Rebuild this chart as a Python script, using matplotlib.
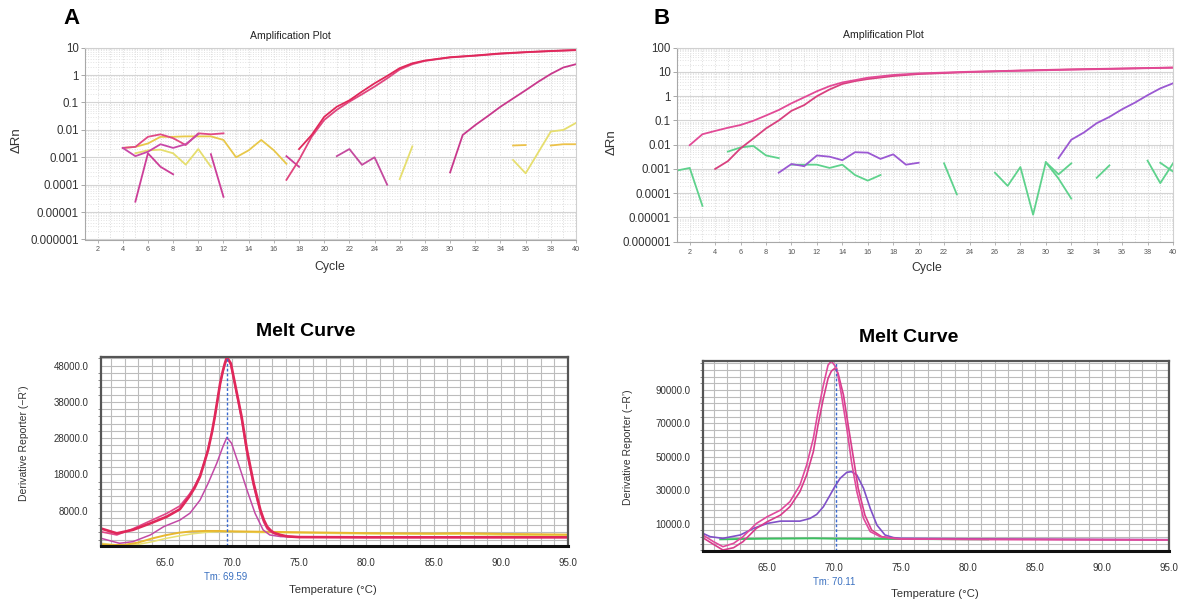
import numpy as np
import matplotlib
matplotlib.use("Agg")
import matplotlib.pyplot as plt
from matplotlib.ticker import FixedLocator, NullFormatter

plt.rcParams['font.family'] = ['Liberation Sans', 'DejaVu Sans']

W, H = 1182, 600

# ---------------- Amplification plot A ----------------
amp_ticks_a = [10, 1, 0.1, 0.01, 0.001, 0.0001, 0.00001, 0.000001]
amp_labels_a = ["10", "1", "0.1", "0.01", "0.001", "0.0001", "0.00001", "0.000001"]
cycle_ticks = list(range(2, 41, 2))

a_red1_x = [18, 19, 20, 21, 22, 23, 24, 25, 26, 27, 28, 30, 32, 34, 36, 38, 40]
a_red1_y = [0.002, 0.0065, 0.03, 0.07, 0.12, 0.25, 0.5, 0.93, 1.8, 2.7, 3.4, 4.5, 5.2, 6.2, 6.9, 7.6, 8.3]
a_red2_x = [17, 18, 19, 20, 21, 22, 23, 24, 25, 26, 27, 28, 30, 32, 34, 36, 38, 40]
a_red2_y = [0.00015, 0.0008, 0.0056, 0.023, 0.054, 0.107, 0.2, 0.38, 0.76, 1.6, 2.5, 3.3, 4.4, 5.1, 6.0, 6.8, 7.5, 8.1]
a_late_x = [30, 31, 32, 33, 34, 35, 36, 37, 38, 39, 40]
a_late_y = [0.00028, 0.0065, 0.015, 0.032, 0.07, 0.14, 0.28, 0.57, 1.1, 1.9, 2.5]

a_pink1_x = [4, 5, 6, 7, 8, 9, 10, 11, 12]
a_pink1_y = [0.0022, 0.0024, 0.0056, 0.0069, 0.005, 0.0028, 0.0075, 0.0069, 0.0075]
a_mag1_x = [4, 5, 6, 7, 8, 9, 10]
a_mag1_y = [0.0022, 0.0011, 0.0016, 0.003, 0.0022, 0.003, 0.007]
a_mag2_x = [5, 6, 7, 8]
a_mag2_y = [0.000024, 0.0014, 0.00045, 0.00024]
a_mag3_x = [11, 12]
a_mag3_y = [0.0013, 0.000036]
a_mag4_x = [17, 18]
a_mag4_y = [0.0011, 0.00045]
a_mag5_x = [21, 22, 23, 24, 25]
a_mag5_y = [0.0011, 0.002, 0.00053, 0.001, 0.0001]

a_yel1_x = [4, 5, 6, 7, 8, 9, 10, 11, 12, 13, 14, 15, 16, 17]
a_yel1_y = [0.0022, 0.0024, 0.0032, 0.0056, 0.0056, 0.0058, 0.0058, 0.0058, 0.0043, 0.001, 0.0018, 0.0043, 0.0018, 0.00058]
a_yel2_x = [5, 6, 7, 8, 9, 10, 11]
a_yel2_y = [0.0014, 0.0018, 0.0019, 0.0014, 0.00054, 0.002, 0.00045]
a_yel3_x = [26, 27]
a_yel3_y = [0.00016, 0.0025]
a_yel4_x = [35, 36, 38, 39, 40]
a_yel4_y = [0.0008, 0.00026, 0.0087, 0.01, 0.018]
a_gold1_x = [35, 36]
a_gold1_y = [0.0027, 0.0028]
a_gold2_x = [38, 39, 40]
a_gold2_y = [0.0027, 0.003, 0.003]

# ---------------- Amplification plot B ----------------
amp_ticks_b = [100, 10, 1, 0.1, 0.01, 0.001, 0.0001, 0.00001, 0.000001]
amp_labels_b = ["100", "10", "1", "0.1", "0.01", "0.001", "0.0001", "0.00001", "0.000001"]

b_pink1_x = [2, 3, 4, 5, 6, 7, 8, 9, 10, 11, 12, 13, 14, 15, 16, 18, 20, 24, 28, 32, 36, 40]
b_pink1_y = [0.0096, 0.027, 0.037, 0.05, 0.065, 0.097, 0.16, 0.27, 0.51, 0.9, 1.6, 2.6, 3.7, 4.6, 5.8, 7.5, 8.7, 10.2, 11.2, 12.4, 13.6, 15]
b_pink2_x = [4, 5, 6, 7, 8, 9, 10, 11, 12, 13, 14, 15, 16, 18, 20, 24, 28, 32, 36, 40]
b_pink2_y = [0.001, 0.0021, 0.0071, 0.018, 0.047, 0.1, 0.25, 0.43, 1.0, 1.9, 3.2, 4.2, 5.1, 6.8, 8.2, 9.9, 11.5, 12.8, 13.9, 15.2]
b_purp1_x = [31, 32, 33, 34, 35, 36, 37, 38, 39, 40]
b_purp1_y = [0.0028, 0.016, 0.032, 0.077, 0.14, 0.29, 0.54, 1.1, 2.1, 3.4]
b_purp2_x = [9, 10, 11, 12, 13, 14, 15, 16, 17, 18, 19, 20]
b_purp2_y = [0.0007, 0.0016, 0.0013, 0.0036, 0.0032, 0.0023, 0.0049, 0.0047, 0.0026, 0.004, 0.0015, 0.0018]

b_grn1_x = [1, 2, 3]
b_grn1_y = [0.00086, 0.0011, 0.00003]
b_grn2_x = [5, 6, 7, 8, 9]
b_grn2_y = [0.0052, 0.0077, 0.0089, 0.0036, 0.0028]
b_grn3_x = [10, 11, 12, 13, 14, 15, 16, 17]
b_grn3_y = [0.0015, 0.0015, 0.0015, 0.0011, 0.0015, 0.00056, 0.00033, 0.00056]
b_grn4_x = [22, 23]
b_grn4_y = [0.0017, 0.00009]
b_grn5_x = [26, 27, 28, 29, 30, 31, 32]
b_grn5_y = [0.0007, 0.0002, 0.0012, 0.000013, 0.0019, 0.0006, 0.0017]
b_grn6_x = [30, 31, 32]
b_grn6_y = [0.0019, 0.0004, 0.00006]
b_grn7_x = [34, 35]
b_grn7_y = [0.00043, 0.0014]
b_grn8_x = [38, 39, 40]
b_grn8_y = [0.0022, 0.00026, 0.0017]
b_grn9_x = [39, 40]
b_grn9_y = [0.0018, 0.00078]

# ---------------- Melt curve A ----------------
melt_a_t = [60.2, 61.4, 62.6, 63.9, 65.1, 66.1, 66.8, 67.2, 67.6, 67.9, 68.2, 68.5, 68.7, 68.9, 69.1, 69.3,
            69.45, 69.6, 69.75, 69.9, 70.2, 70.45, 70.7, 70.9, 71.1, 71.35, 71.6, 71.85, 72.1, 72.35, 72.6,
            72.85, 73.1, 73.6, 74.1, 75, 80, 85, 90, 95]
melt_a_red1 = [3100, 1750, 2700, 4500, 6300, 8400, 11900, 14300, 17400, 21000, 24700, 29800, 33900, 38500, 43100, 46500,
               48600, 50300, 49500, 48600, 43100, 38500, 33900, 29300, 24700, 20100, 15500, 11800, 8200, 5500, 3600,
               2600, 1900, 1300, 900, 700, 650, 650, 650, 650]
melt_a_red2 = [2200, 1300, 3000, 5200, 7200, 9300, 12500, 14800, 17800, 21200, 25000, 29800, 33900, 38300, 43000, 46300,
               48300, 49800, 49300, 48200, 42800, 38000, 33200, 28500, 23800, 19300, 14800, 11000, 7500, 4800, 3000,
               2200, 1700, 1200, 900, 700, 650, 650, 650, 650]
melt_a_t3 = [60.2, 61.6, 62.6, 63.9, 64.9, 66.1, 66.85, 67.6, 68.2, 68.85, 69.3, 69.6, 69.95, 70.45, 71.1, 71.7,
             72.3, 72.8, 73.6, 75, 80, 85, 90, 95]
melt_a_mag = [400, -1000, -550, 1300, 3600, 5400, 7300, 10900, 15500, 21100, 25600, 28200, 26600, 21100, 13700, 7300,
              2700, 1300, 850, 700, 650, 650, 650, 650]
melt_a_t2 = [60.2, 61, 62, 63, 64, 65, 66, 67, 68, 69, 70, 72, 74, 76, 78, 80, 85, 87, 90, 95]
melt_a_yel = [-1000, -1300, -1600, -1300, -600, 300, 1000, 1600, 2000, 2200, 2200, 2000, 1900, 1800, 1700, 1600, 1500, 1500, 1300, 1100]
melt_a_gold = [-1300, -1500, -1400, -800, 300, 1200, 1900, 2300, 2400, 2400, 2300, 2200, 2100, 2000, 1900, 1800, 1700, 1800, 1600, 1400]
melt_a_yticks = [8000, 18000, 28000, 38000, 48000]
tm_a = 69.59

# ---------------- Melt curve B ----------------
melt_b_t1 = [60.2, 61.0, 61.7, 62.5, 63.2, 64.2, 65.0, 66.0, 66.7, 67.45, 67.95, 68.45, 68.8, 69.2, 69.55, 69.8,
             70.2, 70.55, 70.95, 71.3, 71.7, 72.2, 72.7, 73.45, 74.45, 75, 80, 85, 90, 95]
melt_b_pink1 = [3200, -800, -3800, -1800, 2200, 10100, 14100, 18100, 23100, 33100, 45000, 61000, 77000, 92900, 104900, 107300,
                102900, 87000, 67000, 47000, 29100, 13100, 5200, 2200, 1200, 800, 600, 500, 400, 300]
melt_b_t2 = [60.2, 61.0, 61.7, 62.5, 63.2, 64.2, 65.0, 66.0, 66.7, 67.45, 67.95, 68.45, 68.8, 69.2, 69.55, 69.8,
             70.05, 70.3, 70.7, 71.05, 71.45, 71.8, 72.3, 72.8, 73.55, 74.45, 75, 80, 85, 90, 95]
melt_b_pink2 = [1600, -2400, -5800, -4400, -800, 7200, 11100, 15100, 20100, 29100, 39100, 53000, 69000, 85000, 96900, 101300,
                102900, 99900, 87000, 69000, 49000, 31100, 15100, 6200, 2200, 1200, 800, 600, 500, 400, 300]
melt_b_t3 = [60.2, 60.75, 61.7, 63.0, 64.0, 65.0, 66.0, 67.45, 68.2, 68.7, 69.2, 69.7, 70.05, 70.45, 70.95, 71.3,
             71.7, 72.2, 72.7, 73.2, 73.8, 74.45, 75, 80, 85, 90, 95]
melt_b_purp = [4200, 2200, 1200, 3200, 7200, 10100, 11500, 11500, 13100, 15500, 20100, 27100, 32100, 37100, 40700, 41100,
               39100, 31100, 19100, 9100, 3200, 1600, 1200, 900, 700, 500, 400]
melt_b_t4 = [61.5, 63, 65, 67, 68.5, 70, 72, 75, 78, 81.5]
melt_b_grn = [600, 800, 1000, 1100, 1200, 1000, 900, 800, 700, 600]
melt_b_yticks = [10000, 30000, 50000, 70000, 90000]
tm_b = 70.11

melt_xticks = [65, 70, 75, 80, 85, 90, 95]


def px_axes(fig, left, top, right, bottom):
    return fig.add_axes([left / W, 1 - bottom / H, (right - left) / W, (bottom - top) / H])


def ftext(fig, x, y, s, **kw):
    fig.text(x / W, 1 - y / H, s, ha=kw.pop("ha", "center"), va=kw.pop("va", "center"), **kw)


def style_amp(ax, ticks, labels, ymax):
    ax.set_yscale("log")
    ax.set_xlim(1, 40)
    ax.set_ylim(1e-6, ymax)
    ax.set_yticks(ticks)
    ax.set_yticklabels(labels)
    ax.yaxis.set_minor_formatter(NullFormatter())
    ax.set_xticks(cycle_ticks)
    ax.xaxis.set_minor_locator(FixedLocator(range(1, 41)))
    ax.grid(True, which="major", axis="y", color="#d4d4d4", lw=0.8, ls="-")
    ax.grid(True, which="minor", axis="y", color="#e2e2e2", lw=0.7, ls=":")
    ax.grid(True, which="both", axis="x", color="#dadada", lw=0.7, ls=":")
    ax.set_axisbelow(True)
    for s in ax.spines.values():
        s.set_color("#d0d0d0")
        s.set_linewidth(0.8)
    ax.spines["left"].set_color("#a8a8a8")
    ax.spines["bottom"].set_color("#a8a8a8")
    ax.tick_params(axis="y", which="major", labelsize=8.3, length=3, width=0.7, color="#a8a8a8",
                   pad=1.5, labelcolor="#333333")
    ax.tick_params(axis="y", which="minor", length=0)
    ax.tick_params(axis="x", which="major", labelsize=5.2, length=2, width=0.6, color="#a8a8a8",
                   pad=3, labelcolor="#555555")
    ax.tick_params(axis="x", which="minor", length=0)


def style_melt(ax, yticks, ylim, ystep):
    ax.set_xlim(60.2, 95.0)
    ax.set_ylim(*ylim)
    ax.set_xticks(melt_xticks)
    ax.set_xticklabels([f"{v:.1f}" for v in melt_xticks])
    ax.set_yticks(yticks)
    ax.set_yticklabels([f"{v:.1f}" for v in yticks])
    ax.xaxis.set_minor_locator(FixedLocator(np.arange(61, 95, 1)))
    ax.yaxis.set_minor_locator(FixedLocator(np.arange(yticks[0] - 5 * ystep, ylim[1], ystep)))
    ax.grid(True, which="both", color="#bcbcbc", lw=0.8, ls="-")
    ax.set_axisbelow(True)
    for s in ax.spines.values():
        s.set_color("#555555")
        s.set_linewidth(1.6)
    ax.spines["bottom"].set_color("#111111")
    ax.spines["bottom"].set_linewidth(2.2)
    ax.tick_params(axis="both", which="both", length=0)
    ax.tick_params(axis="y", which="minor", length=2, color="#777777", direction="out")
    ax.tick_params(axis="y", labelsize=7, pad=9, labelcolor="#333333")
    ax.tick_params(axis="x", labelsize=7, pad=9, labelcolor="#333333")


fig = plt.figure(figsize=(W / 100, H / 100), dpi=100)

# ---- panel A amplification ----
ax = px_axes(fig, 85, 47.7, 576, 239.5)
style_amp(ax, amp_ticks_a, amp_labels_a, 10)
lw = 1.3
ax.plot(a_yel1_x, a_yel1_y, color="#e8c84a", lw=lw)
ax.plot(a_yel2_x, a_yel2_y, color="#e6de6e", lw=lw)
ax.plot(a_yel3_x, a_yel3_y, color="#e6de6e", lw=lw)
ax.plot(a_yel4_x, a_yel4_y, color="#e6de6e", lw=lw)
ax.plot(a_gold1_x, a_gold1_y, color="#ecc24a", lw=lw)
ax.plot(a_gold2_x, a_gold2_y, color="#ecc24a", lw=lw)
ax.plot(a_pink1_x, a_pink1_y, color="#e04a86", lw=lw)
ax.plot(a_mag1_x, a_mag1_y, color="#c848a8", lw=lw)
ax.plot(a_mag2_x, a_mag2_y, color="#cc3e98", lw=lw)
ax.plot(a_mag3_x, a_mag3_y, color="#cc3e98", lw=lw)
ax.plot(a_mag4_x, a_mag4_y, color="#cc3e98", lw=lw)
ax.plot(a_mag5_x, a_mag5_y, color="#c44a9e", lw=lw)
ax.plot(a_late_x, a_late_y, color="#c8388c", lw=lw)
ax.plot(a_red2_x, a_red2_y, color="#e0457e", lw=lw)
ax.plot(a_red1_x, a_red1_y, color="#e0285a", lw=lw)

ftext(fig, 72, 19, "A", fontsize=16, fontweight="bold")
ftext(fig, 290, 36, "Amplification Plot", fontsize=7.6, color="#222222")
ftext(fig, 17, 140, "ΔRn", fontsize=9.5, rotation=90, color="#333333")
ftext(fig, 330, 267, "Cycle", fontsize=8.8, color="#333333")

# ---- panel B amplification ----
ax = px_axes(fig, 677, 47.7, 1173, 241.7)
style_amp(ax, amp_ticks_b, amp_labels_b, 100)
for xs, ys in [(b_grn1_x, b_grn1_y), (b_grn2_x, b_grn2_y), (b_grn3_x, b_grn3_y), (b_grn4_x, b_grn4_y),
               (b_grn5_x, b_grn5_y), (b_grn6_x, b_grn6_y), (b_grn7_x, b_grn7_y), (b_grn8_x, b_grn8_y),
               (b_grn9_x, b_grn9_y)]:
    ax.plot(xs, ys, color="#5ed28c", lw=lw)
ax.plot(b_purp2_x, b_purp2_y, color="#9a58d2", lw=lw)
ax.plot(b_purp1_x, b_purp1_y, color="#9a58d2", lw=lw)
ax.plot(b_pink2_x, b_pink2_y, color="#d8407e", lw=lw)
ax.plot(b_pink1_x, b_pink1_y, color="#e24a96", lw=lw)

ftext(fig, 662, 18, "B", fontsize=16, fontweight="bold")
ftext(fig, 883, 35, "Amplification Plot", fontsize=7.6, color="#222222")
ftext(fig, 612, 142, "ΔRn", fontsize=9.5, rotation=90, color="#333333")
ftext(fig, 927, 268, "Cycle", fontsize=8.8, color="#333333")

# ---- panel A melt ----
ax = px_axes(fig, 100.7, 356.7, 567.7, 546)
style_melt(ax, melt_a_yticks, (-1750, 50480), 2000)
ax.plot(melt_a_t2, melt_a_yel, color="#e8e070", lw=1.1)
ax.plot(melt_a_t2, melt_a_gold, color="#e8b830", lw=1.4)
ax.plot(melt_a_t3, melt_a_mag, color="#c24aa6", lw=1.1)
ax.plot(melt_a_t, melt_a_red2, color="#e0488a", lw=1.2)
ax.plot(melt_a_t, melt_a_red1, color="#e0285a", lw=1.9)
ax.axvline(tm_a, color="#3a6ad0", lw=1.0, ls=(0, (2, 1.5)))

ftext(fig, 306, 332, "Melt Curve", fontsize=14, fontweight="bold")
ftext(fig, 24, 443, "Derivative Reporter (\u2212R\u2019)", fontsize=7.5, rotation=90, color="#333333")
ftext(fig, 333, 590, "Temperature (°C)", fontsize=8.2, color="#333333")
ftext(fig, 226, 577, f"Tm: {tm_a:.2f}", fontsize=6.9, color="#3a70c0")

# ---- panel B melt ----
ax = px_axes(fig, 702.8, 360.7, 1169, 550.7)
style_melt(ax, melt_b_yticks, (-6200, 107500), 4000)
ax.plot(melt_b_t4, melt_b_grn, color="#3cc060", lw=1.4)
ax.plot(melt_b_t3, melt_b_purp, color="#8050c8", lw=1.2)
ax.plot(melt_b_t2, melt_b_pink2, color="#d83c8c", lw=1.2)
ax.plot(melt_b_t1, melt_b_pink1, color="#e04a9c", lw=1.2)
ax.axvline(tm_b, color="#3a6ad0", lw=1.0, ls=(0, (2, 1.5)))

ftext(fig, 909, 337, "Melt Curve", fontsize=14, fontweight="bold")
ftext(fig, 628, 447, "Derivative Reporter (\u2212R\u2019)", fontsize=7.5, rotation=90, color="#333333")
ftext(fig, 935, 594, "Temperature (°C)", fontsize=8.2, color="#333333")
ftext(fig, 834, 582, f"Tm: {tm_b:.2f}", fontsize=6.9, color="#3a70c0")

fig.savefig("out.png", dpi=100)
